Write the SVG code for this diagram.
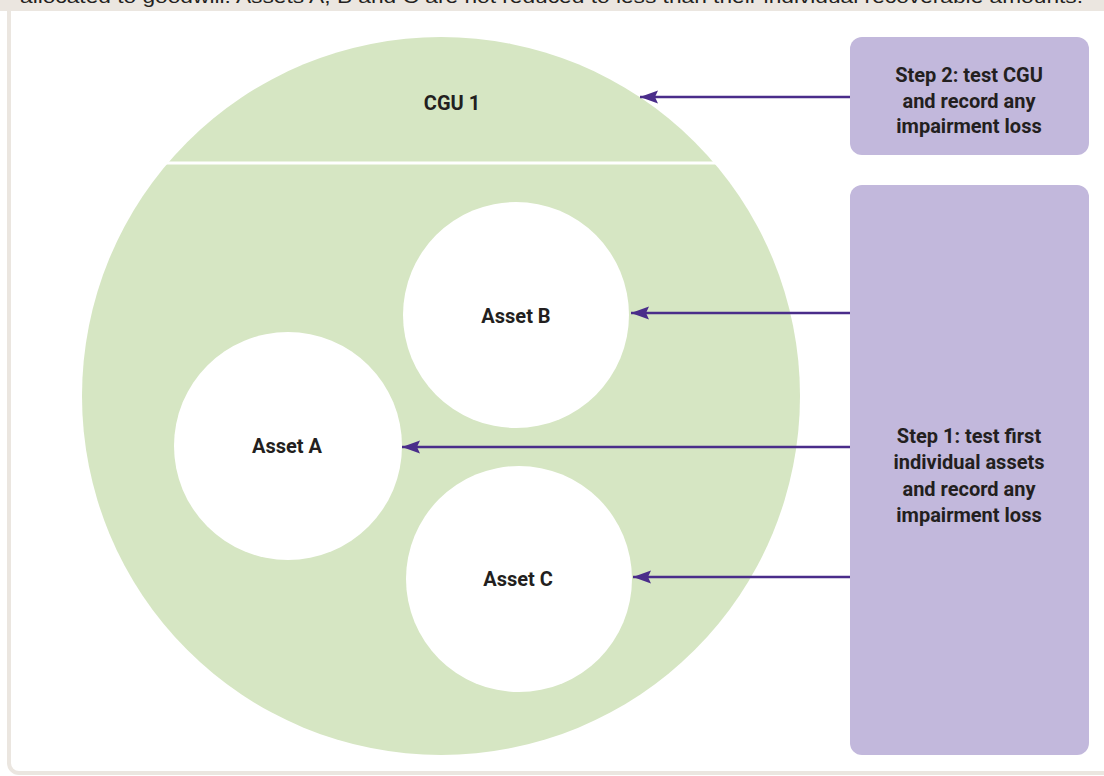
<svg xmlns="http://www.w3.org/2000/svg" width="1104" height="776" viewBox="0 0 1104 776">
  <defs>
    <style>
      .lbl { font-family: Roboto, "Liberation Sans", sans-serif; font-weight: bold; font-size: 20px; fill: #231f20; text-anchor: middle; }
      .cap { font-family: "Liberation Sans", Arial, sans-serif; font-size: 18px; fill: #231f20; }
      .conn { stroke: #4a2d8a; stroke-width: 2.5; fill: none; marker-end: url(#arrow); }
      .step { fill: #c2b8dc; }
      .asset { fill: #ffffff; }
    </style>
    <marker id="arrow" markerUnits="userSpaceOnUse" markerWidth="20" markerHeight="16" viewBox="0 0 20 16" refX="18" refY="8" orient="auto">
      <path d="M0,1.5 L18,8 L0,14.5 L3,8 Z" fill="#4a2d8a"/>
    </marker>
  </defs>

  <rect x="0" y="0" width="1104" height="776" fill="#ffffff"/>
  <rect x="0" y="0" width="1104" height="11" fill="#ebe6e0"/>
  <text class="cap" x="20" y="3" textLength="1063" lengthAdjust="spacingAndGlyphs">allocated to goodwill. Assets A, B and C are not reduced to less than their individual recoverable amounts.</text>
  <rect x="9" y="-20" width="1120" height="793" rx="10" fill="none" stroke="#ebe6e0" stroke-width="4"/>

  <g id="cgu1">
    <circle cx="441" cy="396" r="359" fill="#d6e6c3"/>
    <line x1="160" y1="163" x2="722" y2="163" stroke="#ffffff" stroke-width="3"/>
    <text class="lbl" x="452" y="110">CGU 1</text>
  </g>

  <g id="assetB">
    <circle class="asset" cx="516" cy="315" r="113"/>
    <text class="lbl" x="516" y="323">Asset B</text>
  </g>

  <g id="assetA">
    <circle class="asset" cx="288" cy="446" r="114"/>
    <text class="lbl" x="287" y="453">Asset A</text>
  </g>

  <g id="assetC">
    <circle class="asset" cx="519" cy="579" r="113"/>
    <text class="lbl" x="518" y="586">Asset C</text>
  </g>

  <g id="step2">
    <rect class="step" x="850" y="37" width="239" height="118" rx="12"/>
    <text class="lbl" x="969" y="82">Step 2: test CGU</text>
    <text class="lbl" x="969" y="108">and record any</text>
    <text class="lbl" x="969" y="133">impairment loss</text>
  </g>

  <g id="step1">
    <rect class="step" x="850" y="185" width="239" height="570" rx="12"/>
    <text class="lbl" x="969" y="443">Step 1: test first</text>
    <text class="lbl" x="969" y="469">individual assets</text>
    <text class="lbl" x="969" y="496">and record any</text>
    <text class="lbl" x="969" y="522">impairment loss</text>
  </g>

  <g id="connectors">
    <line class="conn" x1="850" y1="97" x2="640" y2="97"/>
    <line class="conn" x1="850" y1="313" x2="631" y2="313"/>
    <line class="conn" x1="850" y1="447" x2="402" y2="447"/>
    <line class="conn" x1="850" y1="577" x2="633" y2="577"/>
  </g>
</svg>
